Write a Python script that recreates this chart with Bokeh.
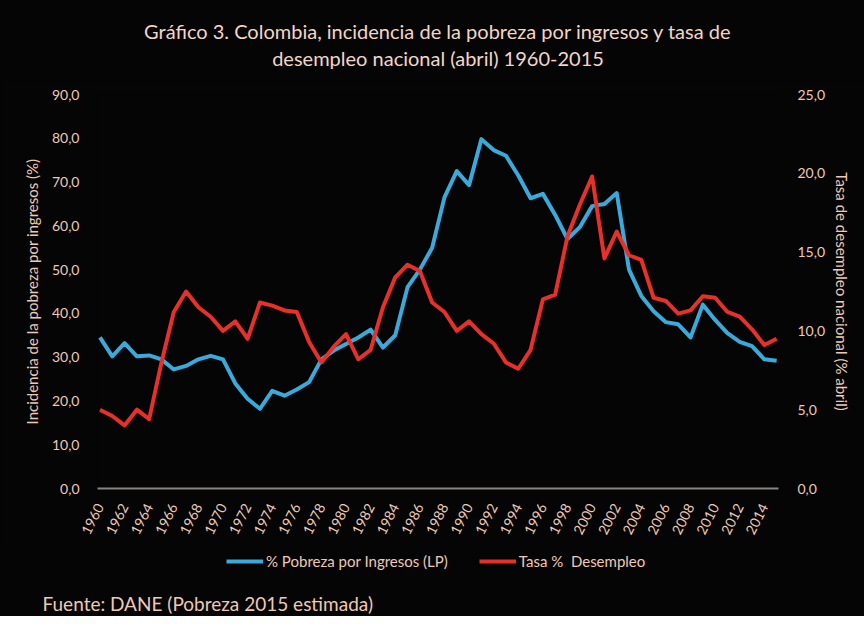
from bokeh.plotting import figure
from bokeh.layouts import column
from bokeh.models import (Range1d, LinearAxis, FixedTicker, Legend, LegendItem, Label, Title)
from bokeh.embed import file_html
from bokeh.resources import INLINE

# ---------------- data ----------------
years = list(range(1960, 2016))
pobreza = [34.5, 30.2, 33.2, 30.2, 30.4, 29.5, 27.2, 28.0, 29.5, 30.3,
           29.5, 24.0, 20.5, 18.2, 22.3, 21.2, 22.6, 24.3, 29.5, 31.5,
           33.0, 34.5, 36.3, 32.2, 35.0, 46.0, 50.0, 55.0, 66.5, 72.5,
           69.3, 79.8, 77.3, 76.0, 71.5, 66.3, 67.3, 62.5, 57.0, 59.7,
           64.5, 65.0, 67.5, 50.0, 44.0, 40.5, 38.0, 37.5, 34.5, 42.0,
           38.5, 35.5, 33.5, 32.5, 29.5, 29.2]
desempleo = [5.0, 4.6, 4.0, 5.0, 4.4, 8.0, 11.2, 12.5, 11.5, 10.9,
             10.0, 10.6, 9.5, 11.8, 11.6, 11.3, 11.2, 9.3, 8.0, 9.0,
             9.8, 8.2, 8.8, 11.5, 13.4, 14.2, 13.8, 11.8, 11.2, 10.0,
             10.6, 9.8, 9.2, 8.0, 7.6, 8.8, 12.0, 12.3, 16.0, 18.0,
             19.8, 14.6, 16.3, 14.8, 14.5, 12.1, 11.9, 11.1, 11.3, 12.2,
             12.1, 11.2, 10.9, 10.1, 9.1, 9.5]
x_ticks = list(range(1960, 2015, 2))
left_ticks = [0, 10, 20, 30, 40, 50, 60, 70, 80, 90]
left_labels = ["0,0", "10,0", "20,0", "30,0", "40,0", "50,0", "60,0", "70,0", "80,0", "90,0"]
right_ticks = [0, 5, 10, 15, 20, 25]
right_labels = ["0,0", "5,0", "10,0", "15,0", "20,0", "25,0"]

title_1 = "Gráfico 3. Colombia, incidencia de la pobreza por ingresos y tasa de"
title_2 = "desempleo nacional (abril) 1960-2015"
name_pob = "% Pobreza por Ingresos (LP)"
name_des = "Tasa %  Desempleo"
left_title = "Incidencia de la pobreza por ingresos (%)"
right_title = "Tasa de desempleo nacional (% abril)"
source_note = "Fuente: DANE (Pobreza 2015 estimada)"

# ---------------- style ----------------
BG = "#050505"
TXT = "#EEC9B6"
TITLE_TXT = "#F1D6C9"
GRID = "#8A8480"
BLUE = "#3AAADB"
RED = "#E8302A"
FONT = "Lato"
W = 864
FL, FR = 97, 778   # frame edges (shared by the three stacked figures)

# ---------------- title strip ----------------
p0 = figure(width=W, height=80, output_backend="svg", toolbar_location=None,
            x_axis_type=None, y_axis_type=None, min_border=0,
            x_range=Range1d(FL, FR), y_range=Range1d(0, 80),
            background_fill_color=None, border_fill_color=None)
p0.outline_line_color = None
for txt, yy in ((title_1, 50), (title_2, 23)):
    p0.add_layout(Label(x=437.5, y=yy, text=txt, text_align="center",
                        text_baseline="middle", text_color=TITLE_TXT,
                        text_font=FONT, text_font_size="20px"))

# ---------------- main chart ----------------
p = figure(frame_width=FR - FL, frame_height=394, output_backend="svg", toolbar_location=None,
           x_range=Range1d(1959.8, 2015.15), y_range=Range1d(0, 90),
           min_border_left=FL, min_border_right=W - FR, min_border_top=14,
           min_border_bottom=57,
           background_fill_color=BG, border_fill_color=BG)
p.outline_line_color = None
p.extra_y_ranges = {"right": Range1d(0, 25)}

p.xgrid.visible = False
p.ygrid.ticker = FixedTicker(ticks=[90])
p.ygrid.grid_line_color = GRID
p.ygrid.grid_line_width = 2

r_pob = p.line(years, pobreza, line_color=BLUE, line_width=4, line_join="round")
r_des = p.line(years, desempleo, line_color=RED, line_width=4, line_join="round",
               y_range_name="right")

xa = p.xaxis[0]
xa.ticker = FixedTicker(ticks=x_ticks)
xa.axis_line_color = GRID
xa.axis_line_width = 2
xa.major_tick_line_color = None
xa.minor_tick_line_color = None
xa.major_label_orientation = 1.1
xa.major_label_text_color = TXT
xa.major_label_text_font = FONT
xa.major_label_text_font_size = "14px"
xa.major_label_standoff = 10

ya = p.yaxis[0]
ya.ticker = FixedTicker(ticks=left_ticks)
ya.major_label_overrides = dict(zip(left_ticks, left_labels))
ya.axis_line_color = None
ya.major_tick_line_color = None
ya.minor_tick_line_color = None
ya.major_label_text_color = TXT
ya.major_label_text_font = FONT
ya.major_label_text_font_size = "14px"
ya.major_label_standoff = 12
ya.axis_label = left_title
ya.axis_label_text_color = TXT
ya.axis_label_text_font = FONT
ya.axis_label_text_font_size = "15px"
ya.axis_label_text_font_style = "normal"
ya.axis_label_standoff = 8

ra = LinearAxis(y_range_name="right", ticker=FixedTicker(ticks=right_ticks))
ra.major_label_overrides = dict(zip(right_ticks, right_labels))
ra.axis_line_color = None
ra.major_tick_line_color = None
ra.minor_tick_line_color = None
ra.major_label_text_color = TXT
ra.major_label_text_font = FONT
ra.major_label_text_font_size = "14px"
ra.major_label_standoff = 13
ra.axis_label = right_title
ra.axis_label_text_color = TXT
ra.axis_label_text_font = FONT
ra.axis_label_text_font_size = "15px"
ra.axis_label_text_font_style = "normal"
ra.axis_label_standoff = 5
p.add_layout(ra, "right")

# ---------------- legend + source strip ----------------
p2 = figure(width=W, height=71, output_backend="svg", toolbar_location=None,
            x_axis_type=None, y_axis_type=None, min_border=0,
            x_range=Range1d(0, 1), y_range=Range1d(0, 1),
            background_fill_color=None, border_fill_color=None)
p2.outline_line_color = None
# series renderers for the legend keys (their data lie outside this strip's view)
k_pob = p2.line(years, pobreza, line_color=BLUE, line_width=4)
k_des = p2.line(years, desempleo, line_color=RED, line_width=4)
legend = Legend(items=[LegendItem(label=name_pob, renderers=[k_pob]),
                       LegendItem(label=name_des, renderers=[k_des])],
                location=(129, 17), orientation="horizontal",
                background_fill_alpha=0, border_line_color=None,
                label_text_color=TXT, label_text_font=FONT,
                label_text_font_size="15px", glyph_width=37, glyph_height=14,
                label_standoff=3, spacing=31, margin=0, padding=2)
p2.add_layout(legend)
note = Title(text=source_note, align="left", offset=-55, text_color=TXT,
             text_font=FONT, text_font_size="19px", text_font_style="normal",
             standoff=4)
p2.add_layout(note, "below")

layout = column(p0, p, p2, spacing=0, styles={"background-color": BG})
open("out.html", "w").write(file_html(layout, INLINE))
